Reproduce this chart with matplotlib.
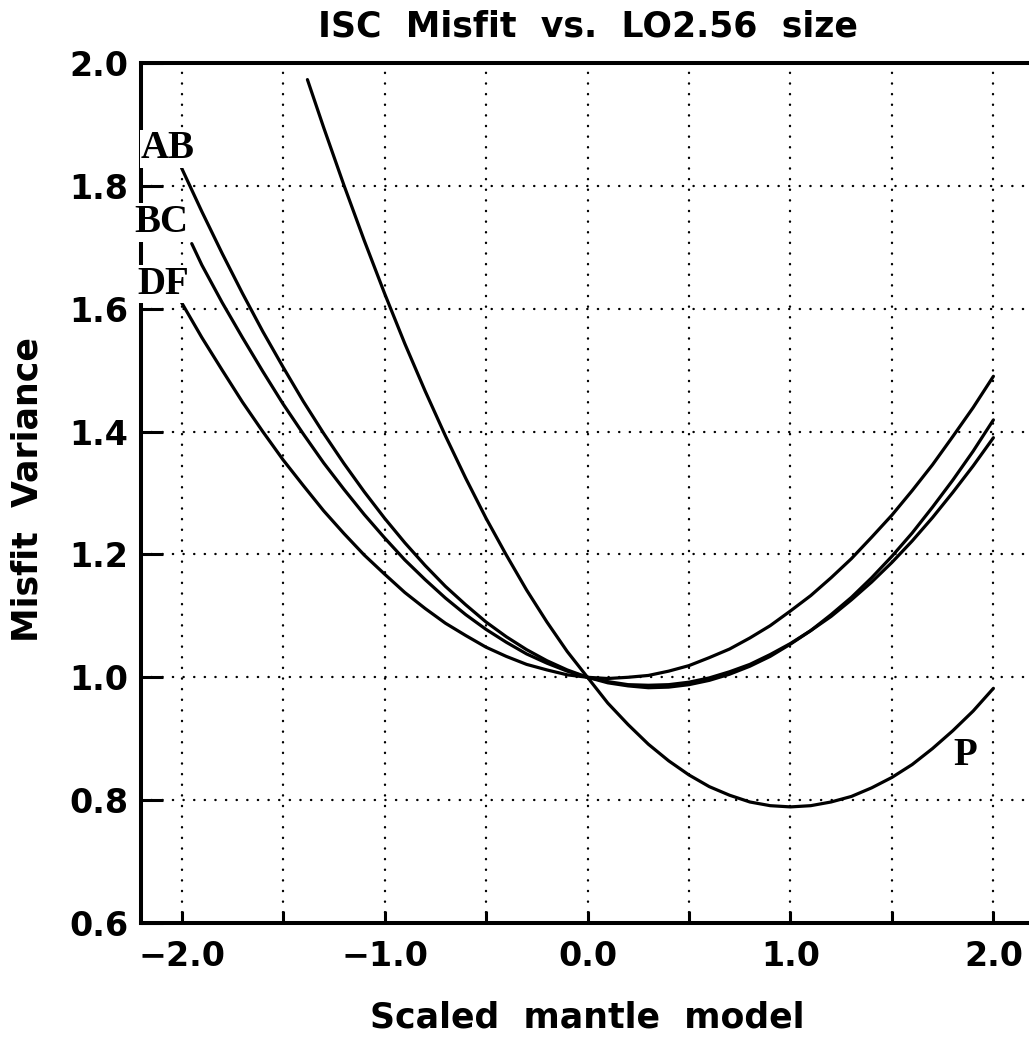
import matplotlib
matplotlib.use("Agg")
import matplotlib.pyplot as plt
from matplotlib.ticker import MultipleLocator, FixedLocator

# Values (misfit variance vs. scaled mantle model)
x_grid = [-2.0, -1.9, -1.8, -1.7, -1.6, -1.5, -1.4, -1.3, -1.2, -1.1, -1.0,
          -0.9, -0.8, -0.7, -0.6, -0.5, -0.4, -0.3, -0.2, -0.1, 0.0,
          0.1, 0.2, 0.3, 0.4, 0.5, 0.6, 0.7, 0.8, 0.9, 1.0,
          1.1, 1.2, 1.3, 1.4, 1.5, 1.6, 1.7, 1.8, 1.9, 2.0]

x_ab = x_grid
y_ab = [1.829, 1.758, 1.690, 1.625, 1.563, 1.505, 1.449, 1.397, 1.348, 1.302, 1.259,
        1.219, 1.182, 1.148, 1.118, 1.090, 1.066, 1.045, 1.027, 1.012, 1.000,
        0.991, 0.986, 0.983, 0.984, 0.988, 0.995, 1.005, 1.018, 1.034, 1.054,
        1.076, 1.102, 1.130, 1.162, 1.197, 1.235, 1.277, 1.321, 1.368, 1.419]

x_bc = [-1.95] + x_grid[1:]
y_bc = [1.706, 1.671, 1.610, 1.553, 1.498, 1.445, 1.396, 1.349, 1.306, 1.265, 1.227,
        1.191, 1.159, 1.129, 1.102, 1.078, 1.057, 1.038, 1.023, 1.010, 1.000,
        0.993, 0.988, 0.987, 0.988, 0.992, 0.999, 1.009, 1.021, 1.037, 1.055,
        1.076, 1.099, 1.126, 1.155, 1.187, 1.222, 1.260, 1.301, 1.344, 1.390]

x_df = x_grid
y_df = [1.610, 1.553, 1.500, 1.448, 1.400, 1.354, 1.312, 1.271, 1.234, 1.199, 1.168,
        1.138, 1.112, 1.088, 1.068, 1.049, 1.034, 1.021, 1.012, 1.004, 1.000,
        0.998, 1.000, 1.003, 1.010, 1.019, 1.032, 1.046, 1.064, 1.084, 1.108,
        1.133, 1.162, 1.193, 1.228, 1.264, 1.304, 1.346, 1.392, 1.439, 1.490]

x_p = [-1.38] + x_grid[7:]
y_p = [1.973, 1.895, 1.801, 1.711, 1.625,
       1.543, 1.466, 1.393, 1.324, 1.259, 1.199, 1.142, 1.090, 1.042, 1.000,
       0.958, 0.923, 0.891, 0.864, 0.841, 0.822, 0.808, 0.797, 0.791, 0.789,
       0.791, 0.797, 0.806, 0.820, 0.837, 0.858, 0.884, 0.913, 0.945, 0.982]

# curve labels: (text, x, y)
curve_labels = [("AB", -2.07, 1.86), ("BC", -2.10, 1.74), ("DF", -2.09, 1.64), ("P", 1.86, 0.872)]

x_major = [-2.0, -1.0, 0.0, 1.0, 2.0]
x_minor = [-1.5, -0.5, 0.5, 1.5]
x_ticklabels = ['\u22122.0', '\u22121.0', '0.0', '1.0', '2.0']
y_ticks = [0.6, 0.8, 1.0, 1.2, 1.4, 1.6, 1.8, 2.0]
y_ticklabels = ['0.6', '0.8', '1.0', '1.2', '1.4', '1.6', '1.8', '2.0']

W, H = 1029, 1038
fig = plt.figure(figsize=(W / 100, H / 100), dpi=100)
ax = fig.add_axes([141 / W, (H - 923) / H, 893 / W, 860 / H])

for xs, ys in [(x_ab, y_ab), (x_bc, y_bc), (x_df, y_df), (x_p, y_p)]:
    ax.plot(xs, ys, color='black', lw=2.3, solid_capstyle='round',
            solid_joinstyle='round', zorder=4)

ax.set_xlim(-2.2, 2.2)
ax.set_ylim(0.6, 2.0)

ax.xaxis.set_major_locator(FixedLocator(x_major))
ax.xaxis.set_minor_locator(FixedLocator(x_minor))
ax.set_xticklabels(x_ticklabels)
ax.set_yticks(y_ticks)
ax.set_yticklabels(y_ticklabels)

tick_font = dict(family='DejaVu Sans', weight='bold', size=24)
for lab in ax.get_xticklabels() + ax.get_yticklabels():
    lab.set_fontproperties(tick_font)

ax.tick_params(axis='x', which='both', direction='in', length=9, width=2.2,
               pad=12, top=False)
ax.tick_params(axis='y', which='major', direction='in', length=16, width=2.2,
               pad=9, right=False)

ax.grid(True, which='both', color='black', lw=1.7, ls=(0, (0.1, 4.4)),
        dash_capstyle='round')

for side in ['left', 'bottom', 'top']:
    ax.spines[side].set_linewidth(2.9)
ax.spines['right'].set_visible(False)

ax.text(0.5, 1.042, 'ISC  Misfit  vs.  LO2.56  size', transform=ax.transAxes,
        ha='center', va='center', family='DejaVu Sans', weight='bold', size=25)
ax.set_xlabel('Scaled  mantle  model', family='DejaVu Sans', weight='bold', size=25)
ax.xaxis.set_label_coords(0.5, -0.09)
ax.set_ylabel('Misfit  Variance', family='DejaVu Sans', weight='bold', size=25)
ax.yaxis.set_label_coords(-0.108, 0.5035)

for text, tx, ty in curve_labels:
    ax.text(tx, ty, text, ha='center', va='center', family='Liberation Serif',
            weight='bold', size=28, color='black', zorder=6, clip_on=False,
            bbox=dict(facecolor='white', edgecolor='none', pad=0.5))

fig.savefig('out.png', dpi=100)
